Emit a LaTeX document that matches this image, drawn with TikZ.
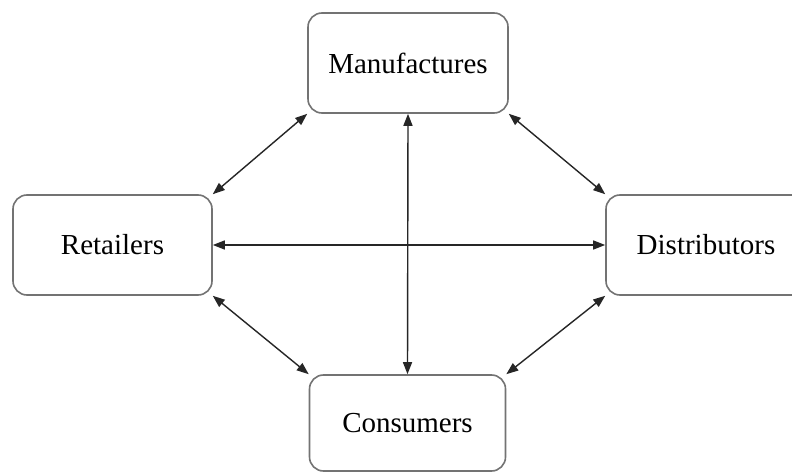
\documentclass[tikz,border=0pt]{standalone}
\usepackage{fontspec}
\setmainfont{Liberation Serif}
\usepackage{tikz}
\usetikzlibrary{arrows.meta, positioning}

\begin{document}
\begin{tikzpicture}[x=1pt, y=-1pt,
    actor/.style={draw=black!55, line width=1.6pt, rounded corners=14pt, fill=white,
        inner sep=0pt, font=\fontsize{29}{33}\selectfont},
    link/.style={{Triangle[length=12pt,width=9pt]}-{Triangle[length=12pt,width=9pt]},
        line width=1.4pt, draw=black!85}]
        \clip (0,0) rectangle (792,473);
        \fill[white] (0,0) rectangle (792,473);

        \node[actor, minimum width=200pt, minimum height=100pt] (man) at (408,63) {Manufactures};
        \node[actor, minimum width=199pt, minimum height=100pt] (ret) at (112.5,245) {Retailers};
        \node[actor, minimum width=200pt, minimum height=100pt] (dis) at (706,245) {Distributors};
        \node[actor, minimum width=196pt, minimum height=96pt] (con) at (407.5,423) {Consumers};

        \draw[link] (man.south west) -- (ret.north east);
        \draw[link] (man.south east) -- (dis.north west);
        \draw[link] (ret.south east) -- (con.north west);
        \draw[link] (dis.south west) -- (con.north east);

        \draw[link] (man.south) -- (con.north);
        \draw[link] (ret.east) -- (dis.west);
    \end{tikzpicture}
\end{document}
